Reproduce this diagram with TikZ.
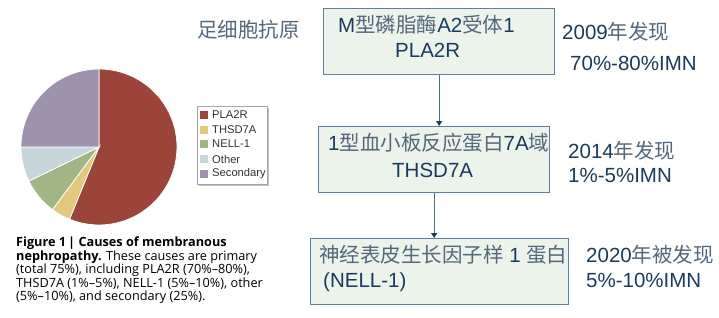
\documentclass[tikz,border=0pt]{standalone}
\usepackage{fontspec}
\setmainfont{Liberation Sans}
\newfontfamily\cjk{Noto Sans CJK SC}
\newfontfamily\capfont[Ligatures=TeX]{Open Sans}
\usetikzlibrary{arrows.meta}
\definecolor{navy}{HTML}{1B3A60}
\definecolor{cjkgray}{HTML}{55677D}
\definecolor{boxfill}{HTML}{EBF3EA}
\definecolor{boxline}{HTML}{5C7FA6}
\definecolor{arrowc}{HTML}{4F6F96}
\definecolor{cPLA}{HTML}{9C433A}
\definecolor{cTHS}{HTML}{E2C87C}
\definecolor{cNEL}{HTML}{A2B585}
\definecolor{cOTH}{HTML}{C6D6DA}
\definecolor{cSEC}{HTML}{9E93AE}
\newcommand{\zh}[1]{{\cjk\color{cjkgray}#1}}
\tikzset{
  flowbox/.style={draw=boxline, line width=1.3pt, fill=boxfill, inner sep=0pt},
  bigtext/.style={text=navy, font=\fontsize{20.5}{25}\selectfont, inner sep=0pt, anchor=west},
  flowarrow/.style={draw=arrowc, line width=1pt, -{Triangle[width=6pt,length=5pt,color=navy]}},
  slice/.style={draw=white, line width=0.8pt},
  legsq/.style={minimum size=8pt, inner sep=0pt},
  legtext/.style={text=black!80, font=\fontsize{11.2}{12}\selectfont, inner sep=0pt, anchor=west},
}
\begin{document}
\begin{tikzpicture}[x=1pt,y=-1pt]
\useasboundingbox (0,0) rectangle (719,318);
% pie chart (y axis points down: angles run clockwise)
\coordinate (pc) at (99,147);
\def\R{78}
\fill[cPLA, slice] (pc) -- ++(-90:\R) arc[start angle=-90, end angle=112.2, radius=\R] -- cycle;
\fill[cTHS, slice] (pc) -- ++(112.2:\R) arc[start angle=112.2, end angle=126.6, radius=\R] -- cycle;
\fill[cNEL, slice] (pc) -- ++(126.6:\R) arc[start angle=126.6, end angle=154.1, radius=\R] -- cycle;
\fill[cOTH, slice] (pc) -- ++(154.1:\R) arc[start angle=154.1, end angle=180, radius=\R] -- cycle;
\fill[cSEC, slice] (pc) -- ++(180:\R) arc[start angle=180, end angle=270, radius=\R] -- cycle;
% legend
\fill[black!25] (199,108) rectangle (269,186);
\draw[black!35, fill=white, line width=0.6pt] (197,106) rectangle (267,184);
\node[legsq, fill=cPLA] (l1) at (204,115) {};
\node[legsq, fill=cTHS] (l2) at (204,130) {};
\node[legsq, fill=cNEL] (l3) at (204,144) {};
\node[legsq, fill=cOTH] (l4) at (204,159) {};
\node[legsq, fill=cSEC] (l5) at (204,174) {};
\node[legtext] (t1) at (212,115) {PLA2R};
\node[legtext] (t2) at (212,130) {THSD7A};
\node[legtext] (t3) at (212,144) {NELL-1};
\node[legtext] (t4) at (212,159) {Other};
\node[legtext] (t5) at (212,174) {Secondary};
% caption
\node[anchor=north west, inner sep=0pt, align=left, font=\capfont\fontsize{12.7}{13.4}\selectfont, text=black] (cap) at (16,237)
{\textbf{Figure 1\,| Causes of membranous}\\
\textbf{nephropathy.} These causes are primary\\
(total 75\%), including PLA2R (70\%\textendash80\%),\\
THSD7A (1\%\textendash5\%), NELL-1 (5\%\textendash10\%), other\\
(5\%\textendash10\%), and secondary (25\%).};
% flow boxes
\node[flowbox, minimum width=231pt, minimum height=66pt, anchor=north west] (b1) at (323,8) {};
\node[flowbox, minimum width=231pt, minimum height=66pt, anchor=north west] (b2) at (318,126) {};
\node[flowbox, minimum width=258pt, minimum height=66pt, anchor=north west] (b3) at (310,238) {};
\draw[flowarrow] (b1.south) -- (b1.south |- b2.north);
\draw[flowarrow] (b2.south) -- (b2.south |- b3.north);
% box texts
\node[bigtext] (h1a) at (338,25) {M\zh{型磷脂酶}A2\zh{受体}1};
\node[bigtext] (h1b) at (395,50) {PLA2R};
\node[bigtext] (h2a) at (328,143) {1\zh{型血小板反应蛋白}7A\zh{域}};
\node[bigtext] (h2b) at (392,170) {THSD7A};
\node[bigtext] (h3a) at (319,255) {\zh{神经表皮生长因子样} 1 \zh{蛋白}};
\node[bigtext] (h3b) at (323,282) {(NELL-1)};
% side texts
\node[bigtext] (ant) at (197,30) {\zh{足细胞抗原}};
\node[bigtext] (y1) at (562,32) {2009\zh{年发现}};
\node[bigtext] (p1) at (570,63) {70\%-80\%IMN};
\node[bigtext] (y2) at (568,151) {2014\zh{年发现}};
\node[bigtext] (p2) at (568,175) {1\%-5\%IMN};
\node[bigtext] (y3) at (586,255) {2020\zh{年被发现}};
\node[bigtext] (p3) at (586,280) {5\%-10\%IMN};
\end{tikzpicture}
\end{document}
